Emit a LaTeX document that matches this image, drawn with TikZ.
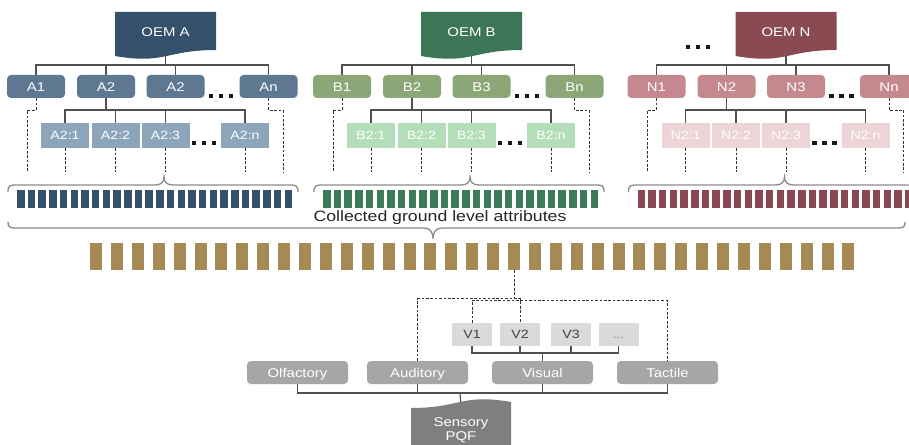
\documentclass[tikz,border=0pt]{standalone}
\usepackage{fontspec}
\setmainfont{Liberation Sans}[FakeStretch=1.18]
\usetikzlibrary{calc}
\pgfdeclarelayer{bg}
\pgfdeclarelayer{back}
\pgfsetlayers{bg,back,main}
\definecolor{docA}{HTML}{35506B}
\definecolor{boxA}{HTML}{5E7891}
\definecolor{subA}{HTML}{8DA5BB}
\definecolor{barA}{HTML}{34506B}
\definecolor{docB}{HTML}{3C7656}
\definecolor{boxB}{HTML}{8CA777}
\definecolor{subB}{HTML}{B4DEBA}
\definecolor{barB}{HTML}{3D7A57}
\definecolor{docN}{HTML}{8A4A52}
\definecolor{boxN}{HTML}{C5888E}
\definecolor{subN}{HTML}{ECD5D7}
\definecolor{barN}{HTML}{8A4751}
\definecolor{gold}{HTML}{A68A55}
\definecolor{conncol}{HTML}{505050}
\definecolor{brcol}{HTML}{8C8C8C}
\definecolor{sense}{HTML}{A6A6A6}
\definecolor{vbox}{HTML}{DADADA}
\definecolor{pqfcol}{HTML}{7F7F7F}
\tikzset{
 conn/.style={draw=conncol, line width=0.85pt},
 dsh/.style={draw=black!80, line width=0.7pt, dash pattern=on 2pt off 1.3pt},
 brc/.style={draw=brcol, line width=1pt},
 txt/.style={text=white, font=\fontsize{9.5}{11}\selectfont, inner sep=0pt, text height=6.8pt, text depth=0pt},
 oembox/.style={txt, minimum width=75.75pt, minimum height=30pt},
 lvl/.style={txt, rounded corners=3pt, minimum width=43.5pt, minimum height=17.25pt},
 sub/.style={txt, font=\fontsize{9}{11}\selectfont, text height=6.45pt, minimum width=36pt, minimum height=18.75pt},
 vb/.style={fill=vbox, text=black!75, font=\fontsize{9}{11}\selectfont, inner sep=0pt, text height=6.45pt, text depth=0pt, minimum width=30pt, minimum height=17.25pt},
 sen/.style={txt, fill=sense, rounded corners=3pt, minimum width=75.75pt, minimum height=17.25pt},
 bar/.style={inner sep=0pt, minimum width=9pt, minimum height=20.25pt},
}
\newcommand\tdots[2]{\foreach \q in {-10,0,10} \fill[black!90] (#1+\q-2.3,#2-2.3) rectangle ++(4.6,4.6);}
\newcommand\ubrace[6]{%
\draw[brc] (#1,#5) .. controls (#1,#4) and (#1+2,#4) .. (#1+10,#4) -- (#3-9,#4) .. controls (#3-3,#4) and (#3,{#4+0.35*(#6-#4)}) .. (#3,#6) .. controls (#3,{#4+0.35*(#6-#4)}) and (#3+3,#4) .. (#3+9,#4) -- (#2-10,#4) .. controls (#2-2,#4) and (#2,#4) .. (#2,#5);}
\newcommand\oemgroup[7]{%
\begin{scope}[shift={(#2,0)}]
\fill[#3] (115,12) -- (216,12) -- (216,50) .. controls (165.5,50) and (165.5,64.7) .. (115,56) -- cycle;
\node[oembox] (#1oem) at (165.5,32) {OEM #1};
\coordinate (#1bus) at (165.5,65);
\node[lvl, fill=#4] (#1b1) at (36,86.5) {#11};
\node[lvl, fill=#4] (#1b2) at (106,86.5) {#12};
\node[lvl, fill=#4] (#1b3) at (175.5,86.5) {#7};
\node[lvl, fill=#4] (#1bn) at (268.5,86.5) {#1n};
\tdots{221}{96}
\coordinate (#1sbus) at (106,110);
\node[sub, fill=#5] (#1s1) at (65,135.5) {#12:1};
\node[sub, fill=#5] (#1s2) at (115.5,135.5) {#12:2};
\node[sub, fill=#5] (#1s3) at (165.5,135.5) {#12:3};
\node[sub, fill=#5] (#1sn) at (245,135.5) {#12:n};
\tdots{204}{143}
\begin{pgfonlayer}{back}
\draw[conn] (#1oem.south) -- (#1bus);
\foreach \kk in {b1,b2,b3,bn} \draw[conn] (#1\kk.north) |- (#1bus);
\draw[conn] (#1b2.south) -- (#1sbus);
\foreach \kk in {s1,s2,s3,sn} \draw[conn] (#1\kk.north) |- (#1sbus);
\end{pgfonlayer}
\draw[dsh] (#1b1.south) |- (27,110) -- (27,172);
\draw[dsh] (#1bn.south) |- (283,110) -- (283,172);
\foreach \kk in {s1,s2,s3,sn} \draw[dsh] (#1\kk.south) -- ++(0,24);
\ubrace{8}{298}{164}{185}{192}{177}
\foreach \ii in {0,...,25} \fill[#6] (17+\ii*10.7,190) rectangle ++(7.5,18);
\end{scope}}
\begin{document}
\begin{tikzpicture}[x=0.75pt,y=-0.75pt]
\useasboundingbox (0,0) rectangle (909,445);
\clip (0,0) rectangle (909,445);
\begin{pgfonlayer}{bg}
\fill[white] (0,0) rectangle (909,445);
\end{pgfonlayer}
\oemgroup{A}{0}{docA}{boxA}{subA}{barA}{A2}
\oemgroup{B}{306}{docB}{boxB}{subB}{barB}{B3}
\oemgroup{N}{620.5}{docN}{boxN}{subN}{barN}{N3}
\tdots{698}{47}
% lower part
\ubrace{8}{905}{433}{228}{222}{239}
\node[font=\fontsize{11.25}{13}\selectfont, text=black!85, inner sep=0pt, anchor=base] (coll) at (440,222) {Collected ground level attributes};
\foreach \ii in {0,...,36} \node[bar, fill=gold] (g\ii) at (96+\ii*20.9,256.5) {};
\path (g20.south) ++(0,29) coordinate (hub);
\node[vb] (v1) at (472,334.5) {V1};
\node[vb] (v2) at (520,334.5) {V2};
\node[vb] (v3) at (571,334.5) {V3};
\node[vb, text=black!45] (vd) at (618.5,334.5) {...};
\node[sen] (olf) at (297.5,372.5) {Olfactory};
\node[sen] (aud) at (417.5,372.5) {Auditory};
\node[sen] (vis) at (542.5,372.5) {Visual};
\node[sen] (tac) at (667.5,372.5) {Tactile};
\coordinate (vbus) at (542.5,353);
\coordinate (bbus) at (460,393);
\fill[pqfcol] (411,408) .. controls (461,408) and (461,393.4) .. (511,402) -- (511,460) -- (411,460) -- cycle;
\node[text=white, font=\fontsize{9.5}{10.5}\selectfont, align=center, inner sep=0pt, minimum width=75pt, minimum height=37.5pt] (pqf) at (461,430) {Sensory\\PQF};
\begin{pgfonlayer}{back}
\foreach \kk in {v1,v2,v3,vd} \draw[conn] (\kk.south) |- (vbus);
\draw[conn] (vis.north) -- (vbus);
\foreach \kk in {olf,aud,vis,tac} \draw[conn] (\kk.south) |- (bbus);
\draw[conn] (bbus) -- (pqf.north);
\end{pgfonlayer}
\draw[dsh] (g20.south) -- (hub);
\draw[dsh] (aud.north) -- ++(0,-62) -| (v2.north);
\draw[dsh] (v1.north) -- ++(0,-22) -| (tac.north);
\end{tikzpicture}
\end{document}
